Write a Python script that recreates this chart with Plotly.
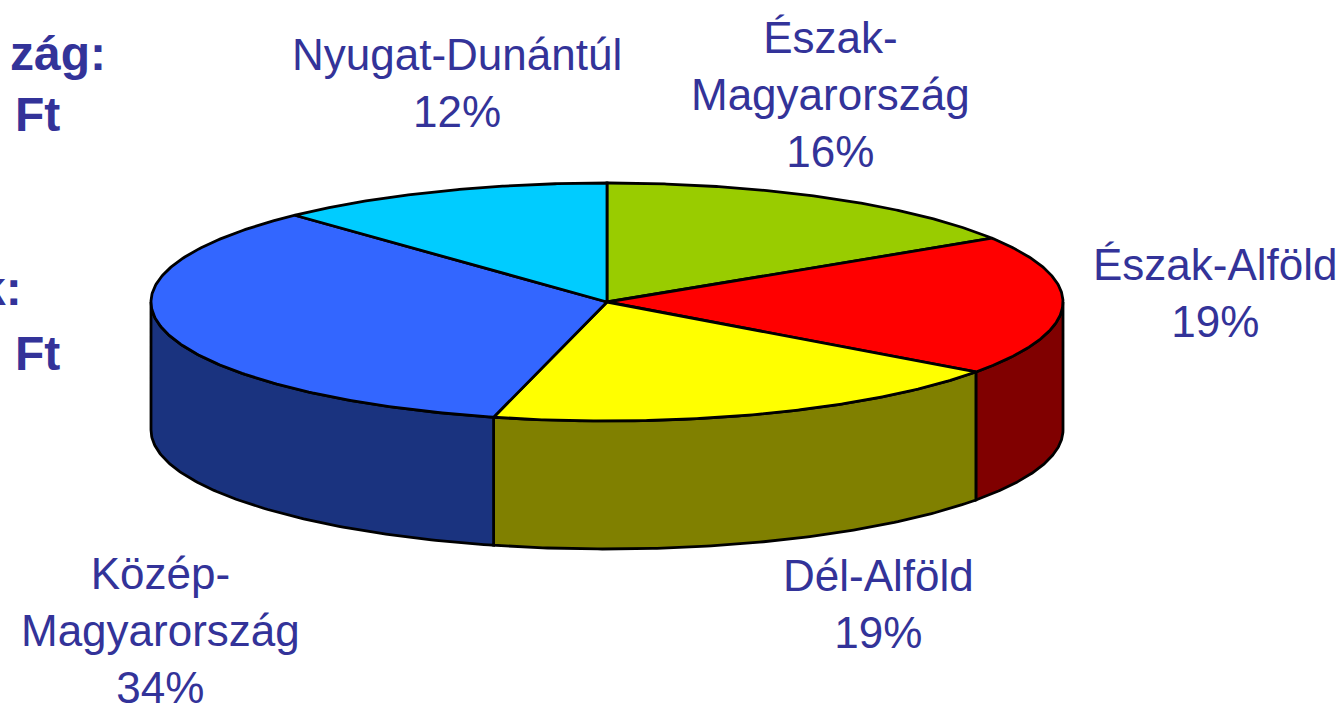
import numpy as np
import plotly.graph_objects as go

# ---- data ----
regions = ["Észak-Magyarország", "Észak-Alföld", "Dél-Alföld", "Közép-Magyarország", "Nyugat-Dunántúl"]
label_lines = [["Észak-", "Magyarország"], ["Észak-Alföld"], ["Dél-Alföld"], ["Közép-", "Magyarország"], ["Nyugat-Dunántúl"]]
shares = [16, 19, 19, 34, 12]
top_colors = ["#99CC00", "#FF0000", "#FFFF00", "#3366FF", "#00CCFF"]
side_colors = ["#4D6600", "#800000", "#808000", "#1A337F", "#006680"]
# label centres (pixels) - layout only
label_pos = [(830, 94), (1215, 293), (878, 604), (160, 630), (457, 83)]
side_texts = [("zág:", 108, 53), ("Ft", 62, 115), ("k:", 24, 288), ("Ft", 62, 353)]

# ---- geometry (layout) ----
W, H = 1339, 707
SCALE = 456.0
CX, CY = 607.0, 302.0
B = 119.0 / SCALE
D = 128.0 / SCALE
TXT = "#333399"
FONT = "Liberation Sans, Arial, sans-serif"

fig = go.Figure()
cum = np.concatenate([[0], np.cumsum(shares)]) / sum(shares) * 360.0

# side walls (front half only)
for i in range(len(shares)):
    s, e = cum[i], cum[i + 1]
    lo, hi = max(s, 90.0), min(e, 270.0)
    if hi > lo:
        t = np.radians(np.linspace(lo, hi, 120))
        x = np.sin(t)
        y = B * np.cos(t)
        xs = np.concatenate([x, x[::-1], [x[0]]])
        ys = np.concatenate([y, y[::-1] - D, [y[0]]])
        fig.add_trace(go.Scatter(x=xs, y=ys, mode="lines", fill="toself",
                                 fillcolor=side_colors[i],
                                 line=dict(color="black", width=2.8),
                                 hoverinfo="skip", showlegend=False))

# top wedges
for i in range(len(shares)):
    s, e = cum[i], cum[i + 1]
    t = np.radians(np.linspace(s, e, 200))
    xs = np.concatenate([[0], np.sin(t), [0]])
    ys = np.concatenate([[0], B * np.cos(t), [0]])
    fig.add_trace(go.Scatter(x=xs, y=ys, mode="lines", fill="toself",
                             fillcolor=top_colors[i],
                             line=dict(color="black", width=2.8),
                             name=regions[i],
                             hovertemplate=f"{regions[i]}: {shares[i]}%<extra></extra>",
                             showlegend=False))

annotations = []
for i in range(len(shares)):
    px, py = label_pos[i]
    txt = "<br>".join(label_lines[i] + [f"{shares[i]}%"])
    annotations.append(dict(x=px / W, y=1 - py / H, xref="paper", yref="paper",
                            text=txt, showarrow=False, xanchor="center", yanchor="middle",
                            font=dict(family=FONT, size=44, color=TXT)))
for txt, px, py in side_texts:
    annotations.append(dict(x=px / W, y=1 - py / H, xref="paper", yref="paper",
                            text=f"<b>{txt}</b>", showarrow=False, xanchor="right", yanchor="middle",
                            font=dict(family=FONT, size=48, color=TXT)))

fig.update_layout(
    width=W, height=H,
    margin=dict(l=0, r=0, t=0, b=0),
    paper_bgcolor="white", plot_bgcolor="white",
    xaxis=dict(range=[-CX / SCALE, (W - CX) / SCALE], visible=False, fixedrange=True),
    yaxis=dict(range=[-(H - CY) / SCALE, CY / SCALE], visible=False, fixedrange=True),
    annotations=annotations,
)

fig.write_html("out.html", config={"displayModeBar": False},
               post_script="document.body.style.margin='0';")
